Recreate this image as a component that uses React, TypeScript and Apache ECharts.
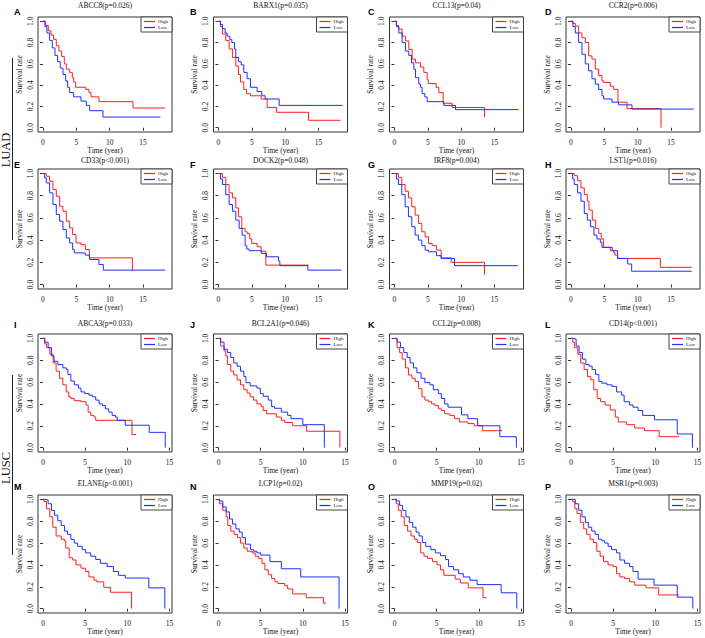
import React, { useEffect, useRef } from 'react';
import * as echarts from 'echarts';

// ---------- data ----------
const panelTitles = [
  'ABCC8(p=0.026)', 'BARX1(p=0.035)', 'CCL13(p=0.04)', 'CCR2(p=0.006)',
  'CD33(p<0.001)', 'DOCK2(p=0.048)', 'IRF8(p=0.004)', 'LST1(p=0.016)',
  'ABCA3(p=0.033)', 'BCL2A1(p=0.046)', 'CCL2(p=0.008)', 'CD14(p<0.001)',
  'ELANE(p<0.001)', 'LCP1(p=0.02)', 'MMP19(p=0.02)', 'MSR1(p=0.003)',
];
const panelLetters = ['A', 'B', 'C', 'D', 'E', 'F', 'G', 'H', 'I', 'J', 'K', 'L', 'M', 'N', 'O', 'P'];
const cohortLabels = ['LUAD', 'LUSC'];
const timeTicks = [0, 5, 10, 15];
const survivalTicks = [0, 0.2, 0.4, 0.6, 0.8, 1.0];
const groupNames = ['High', 'Low'];

const abcc8High = [[0,1],[0.4,0.96],[0.8,0.91],[1.2,0.87],[1.6,0.83],[2.0,0.77],[2.4,0.72],[2.8,0.67],[3.2,0.6],[3.5,0.55],[4.0,0.52],[4.4,0.47],[4.6,0.43],[4.9,0.38],[6.4,0.36],[6.9,0.33],[7.2,0.29],[8.4,0.245],[13.5,0.185],[18.3,0.185]];
const abcc8Low = [[0,1],[0.3,0.95],[0.6,0.89],[1.0,0.82],[1.4,0.75],[1.8,0.68],[2.2,0.62],[2.6,0.56],[3.0,0.5],[3.4,0.44],[3.7,0.38],[4.0,0.33],[4.6,0.29],[5.7,0.25],[6.5,0.21],[7.0,0.16],[9.0,0.1],[17.6,0.1]];
const barx1High = [[0,1],[0.3,0.95],[0.6,0.88],[1.1,0.82],[1.6,0.74],[2.1,0.66],[2.6,0.58],[3.0,0.5],[3.3,0.43],[3.8,0.36],[4.2,0.32],[4.8,0.3],[6.4,0.27],[7.3,0.19],[8.7,0.145],[13.5,0.07],[18.3,0.07]];
const barx1Low = [[0,1],[0.3,0.97],[0.6,0.93],[1.0,0.89],[1.3,0.86],[1.7,0.83],[2.0,0.8],[2.4,0.74],[2.6,0.66],[3.0,0.62],[3.4,0.59],[3.8,0.52],[4.3,0.46],[4.8,0.38],[5.8,0.34],[6.5,0.3],[7.0,0.27],[9.1,0.21],[18.6,0.21]];
const ccl13High = [[0,1],[0.3,0.96],[0.65,0.925],[1.15,0.86],[1.65,0.815],[2.15,0.735],[2.65,0.645],[3.15,0.61],[3.9,0.57],[4.4,0.52],[4.9,0.455],[5.05,0.415],[6.25,0.38],[6.65,0.33],[7.3,0.23],[8.65,0.19],[13.5,0.1]];
const ccl13Low = [[0,1],[0.3,0.95],[0.65,0.89],[1.15,0.8],[1.65,0.72],[2.15,0.68],[2.55,0.61],[2.9,0.55],[3.15,0.47],[3.65,0.41],[3.9,0.38],[4.15,0.32],[4.55,0.29],[4.9,0.245],[7.4,0.21],[9.15,0.17],[18.6,0.17]];
const ccr2High = [[0,1],[0.3,0.98],[0.65,0.955],[1.15,0.89],[1.65,0.845],[2.15,0.8],[2.65,0.675],[3.15,0.645],[3.65,0.55],[4.15,0.49],[4.65,0.44],[4.9,0.425],[5.9,0.39],[6.4,0.36],[7.05,0.24],[8.4,0.18],[13.5,0.0]];
const ccr2Low = [[0,1],[0.3,0.95],[0.65,0.89],[1.15,0.8],[1.65,0.69],[2.15,0.6],[2.65,0.535],[3.15,0.46],[3.65,0.41],[4.15,0.36],[4.65,0.3],[4.9,0.27],[6.15,0.24],[7.15,0.215],[9.15,0.175],[18.4,0.175]];
const cd33High = [[0,1],[0.5,0.975],[1.0,0.93],[1.5,0.855],[2.0,0.795],[2.5,0.705],[3.0,0.66],[3.5,0.57],[4.0,0.51],[4.45,0.45],[4.95,0.375],[5.7,0.36],[6.35,0.315],[6.95,0.24],[13.4,0.12]];
const cd33Low = [[0,1],[0.25,0.96],[0.5,0.915],[1.0,0.825],[1.5,0.72],[2.0,0.63],[2.5,0.57],[3.0,0.495],[3.5,0.42],[4.0,0.375],[4.45,0.315],[4.7,0.285],[6.35,0.265],[7.0,0.225],[8.4,0.18],[9.05,0.13],[18.3,0.13]];
const dock2High = [[0,1],[0.6,0.965],[1.1,0.9],[1.6,0.825],[2.1,0.78],[2.6,0.69],[3.0,0.61],[3.5,0.505],[4.0,0.475],[4.3,0.46],[4.7,0.41],[5.0,0.37],[5.8,0.34],[6.4,0.3],[7.1,0.175],[13.5,0.175]];
const dock2Low = [[0,1],[0.3,0.95],[0.6,0.9],[1.1,0.81],[1.6,0.72],[2.1,0.66],[2.6,0.58],[3.1,0.505],[3.55,0.445],[4.0,0.35],[4.25,0.32],[4.6,0.305],[6.4,0.28],[7.2,0.25],[9.0,0.21],[9.2,0.17],[13.4,0.13],[18.4,0.13]];
const irf8High = [[0,1],[0.6,0.965],[1.1,0.9],[1.6,0.84],[2.1,0.78],[2.6,0.7],[3.1,0.625],[3.6,0.55],[4.1,0.475],[4.6,0.43],[5.1,0.37],[5.65,0.35],[6.3,0.31],[7.0,0.24],[8.5,0.2],[13.5,0.09]];
const irf8Low = [[0,1],[0.3,0.95],[0.6,0.9],[1.1,0.81],[1.6,0.7],[2.1,0.61],[2.6,0.52],[3.1,0.445],[3.6,0.4],[4.1,0.35],[4.6,0.31],[5.1,0.295],[6.3,0.26],[7.0,0.235],[9.0,0.17],[18.5,0.17]];
const lst1High = [[0,1],[0.5,0.98],[1.0,0.935],[1.5,0.87],[2.0,0.81],[2.45,0.75],[2.7,0.67],[3.2,0.58],[3.7,0.505],[4.15,0.46],[4.55,0.41],[4.9,0.335],[5.9,0.305],[6.4,0.29],[6.6,0.265],[7.0,0.235],[13.4,0.155],[18.1,0.155]];
const lst1Low = [[0,1],[0.25,0.95],[0.5,0.9],[1.0,0.825],[1.5,0.75],[2.0,0.64],[2.45,0.58],[2.95,0.52],[3.45,0.445],[3.9,0.41],[4.4,0.38],[4.65,0.335],[6.2,0.305],[7.0,0.235],[8.5,0.185],[9.1,0.12],[18.1,0.12]];
const abca3High = [[0,1],[0.2,0.95],[0.4,0.915],[0.8,0.855],[1.2,0.775],[1.55,0.7],[1.95,0.635],[2.35,0.575],[2.75,0.51],[3.05,0.465],[3.3,0.45],[3.7,0.43],[4.5,0.42],[5.1,0.39],[5.35,0.325],[5.65,0.295],[6.05,0.28],[6.25,0.25],[10.55,0.12],[11.05,0.12]];
const abca3Low = [[0,1],[0.2,0.965],[0.6,0.915],[1.0,0.84],[1.3,0.79],[1.75,0.76],[2.35,0.73],[2.75,0.715],[2.95,0.67],[3.3,0.61],[3.7,0.575],[4.2,0.545],[4.5,0.51],[4.95,0.495],[5.45,0.48],[5.85,0.465],[6.25,0.435],[6.65,0.4],[7.05,0.385],[7.4,0.355],[7.8,0.325],[8.2,0.295],[8.6,0.28],[8.8,0.25],[9.75,0.205],[12.6,0.14],[14.5,0.0]];
const bcl2a1High = [[0,1],[0.25,0.93],[0.65,0.885],[0.85,0.84],[1.05,0.76],[1.45,0.7],[1.8,0.665],[2.2,0.62],[2.6,0.575],[3.0,0.53],[3.4,0.5],[3.75,0.465],[4.15,0.435],[4.55,0.4],[5.05,0.375],[5.3,0.34],[5.7,0.31],[6.85,0.28],[7.45,0.25],[7.85,0.23],[8.8,0.2],[10.45,0.15],[14.4,0.0]];
const bcl2a1Low = [[0,1],[0.25,0.965],[0.65,0.9],[1.05,0.87],[1.45,0.825],[1.8,0.775],[2.2,0.745],[2.6,0.7],[3.0,0.65],[3.25,0.595],[3.75,0.565],[4.55,0.545],[4.95,0.495],[5.3,0.47],[5.9,0.435],[6.3,0.375],[6.65,0.36],[7.45,0.325],[8.2,0.295],[8.6,0.265],[10.0,0.21],[12.55,0.0]];
const ccl2High = [[0,1],[0.3,0.915],[0.6,0.87],[0.9,0.81],[1.3,0.73],[1.65,0.665],[2.05,0.635],[2.45,0.605],[2.85,0.54],[3.25,0.465],[3.6,0.435],[4.0,0.42],[4.4,0.4],[4.8,0.385],[5.2,0.355],[5.55,0.34],[5.95,0.31],[6.55,0.295],[7.1,0.265],[7.7,0.235],[8.7,0.22],[9.45,0.2],[10.45,0.155],[12.75,0.155]];
const ccl2Low = [[0,1],[0.3,0.965],[0.7,0.915],[1.1,0.87],[1.5,0.825],[1.85,0.775],[2.25,0.73],[2.65,0.685],[3.15,0.635],[3.6,0.595],[4.2,0.575],[4.6,0.53],[5.2,0.495],[5.55,0.45],[5.95,0.4],[6.35,0.37],[7.95,0.3],[8.7,0.265],[9.85,0.2],[12.5,0.1],[14.45,0.0]];
const cd14High = [[0,1],[0.2,0.965],[0.4,0.915],[0.8,0.855],[1.15,0.775],[1.55,0.715],[1.95,0.65],[2.35,0.62],[2.7,0.53],[3.1,0.45],[3.5,0.42],[4.05,0.39],[4.65,0.345],[5.25,0.28],[5.6,0.235],[6.6,0.21],[7.55,0.18],[8.7,0.155],[10.45,0.1],[12.8,0.1]];
const cd14Low = [[0,1],[0.2,0.995],[0.6,0.93],[0.95,0.87],[1.35,0.81],[1.75,0.76],[2.15,0.745],[2.5,0.715],[2.9,0.67],[3.3,0.605],[3.65,0.59],[4.25,0.575],[4.85,0.56],[5.4,0.51],[6.0,0.48],[6.3,0.42],[6.95,0.39],[7.35,0.37],[7.95,0.34],[8.5,0.295],[9.9,0.255],[12.6,0.125],[14.4,0.0]];
const elaneHigh = [[0,1],[0.1,0.98],[0.4,0.915],[0.8,0.84],[1.15,0.745],[1.55,0.665],[2.15,0.635],[2.55,0.62],[2.7,0.555],[3.1,0.465],[3.5,0.445],[3.9,0.4],[4.5,0.37],[5.05,0.34],[5.45,0.29],[6.05,0.26],[6.4,0.245],[7.2,0.195],[8.0,0.15],[10.5,0.0]];
const elaneLow = [[0,1],[0.1,0.995],[0.6,0.96],[1.0,0.9],[1.35,0.855],[1.75,0.805],[2.15,0.76],[2.55,0.71],[2.9,0.68],[3.3,0.635],[3.7,0.6],[4.1,0.57],[4.65,0.54],[5.05,0.51],[5.65,0.48],[6.25,0.45],[6.8,0.415],[7.6,0.385],[8.35,0.34],[8.95,0.305],[9.75,0.28],[12.55,0.19],[14.45,0.0]];
const lcp1High = [[0,1],[0.1,0.96],[0.5,0.9],[0.9,0.84],[1.1,0.76],[1.45,0.71],[1.85,0.68],[2.25,0.65],[2.6,0.6],[3.0,0.555],[3.4,0.525],[4.0,0.51],[4.35,0.48],[4.75,0.46],[5.15,0.415],[5.5,0.355],[5.9,0.31],[6.3,0.275],[6.7,0.245],[7.05,0.23],[7.85,0.21],[8.2,0.18],[8.8,0.135],[10.4,0.1],[12.45,0.05],[12.75,0.05]];
const lcp1Low = [[0,1],[0.1,0.985],[0.5,0.93],[0.9,0.885],[1.3,0.82],[1.65,0.775],[2.05,0.73],[2.45,0.7],[2.8,0.65],[3.2,0.59],[3.8,0.54],[4.15,0.525],[4.55,0.51],[5.0,0.49],[6.1,0.43],[7.45,0.365],[9.75,0.29],[14.3,0.0]];
const mmp19High = [[0,1],[0.2,0.96],[0.45,0.9],[0.8,0.84],[1.15,0.76],[1.55,0.71],[1.95,0.665],[2.35,0.635],[2.7,0.605],[3.1,0.51],[3.5,0.48],[3.9,0.46],[4.5,0.43],[5.05,0.4],[5.45,0.355],[5.85,0.305],[7.2,0.27],[7.8,0.235],[8.75,0.19],[10.5,0.1],[10.95,0.1]];
const mmp19Low = [[0,1],[0.2,0.985],[0.6,0.945],[0.95,0.9],[1.35,0.84],[1.75,0.79],[2.15,0.745],[2.55,0.7],[2.9,0.665],[3.3,0.605],[3.7,0.57],[4.3,0.54],[4.85,0.51],[5.45,0.485],[6.05,0.45],[6.4,0.385],[7.0,0.355],[7.6,0.32],[8.15,0.29],[8.95,0.26],[9.8,0.22],[12.65,0.145],[14.5,0.0]];
const msr1High = [[0,1],[0.2,0.98],[0.45,0.915],[0.7,0.87],[1.1,0.79],[1.5,0.73],[1.85,0.68],[2.25,0.635],[2.65,0.605],[3.05,0.525],[3.45,0.48],[3.85,0.43],[4.4,0.4],[5.0,0.385],[5.4,0.32],[5.8,0.29],[6.35,0.275],[6.95,0.245],[7.55,0.215],[8.9,0.19],[10.4,0.125],[12.8,0.125]];
const msr1Low = [[0,1],[0.5,0.96],[0.9,0.9],[1.3,0.84],[1.7,0.79],[2.05,0.745],[2.45,0.71],[2.85,0.68],[3.25,0.635],[3.65,0.62],[4.0,0.6],[4.4,0.57],[4.8,0.54],[5.4,0.51],[5.8,0.445],[6.35,0.415],[6.95,0.385],[7.35,0.34],[7.95,0.27],[9.85,0.215],[12.6,0.105],[14.45,0.0]];

const highCurves = [abcc8High, barx1High, ccl13High, ccr2High, cd33High, dock2High, irf8High, lst1High,
  abca3High, bcl2a1High, ccl2High, cd14High, elaneHigh, lcp1High, mmp19High, msr1High];
const lowCurves = [abcc8Low, barx1Low, ccl13Low, ccr2Low, cd33Low, dock2Low, irf8Low, lst1Low,
  abca3Low, bcl2a1Low, ccl2Low, cd14Low, elaneLow, lcp1Low, mmp19Low, msr1Low];

// ---------- layout / style ----------
const W = 705;
const H = 638;
const colLeft = [38, 213.5, 389.5, 566];
const boxW = 134;
const rowTop = [17, 169, 334, 495];
const rowH = [115, 120, 118, 118];
const titleY = [5.5, 160, 323, 483];
const letterY = [12, 165, 324.5, 487];
const letterX = [14, 190, 368, 545];
const RED = '#FF1F1F';
const BLUE = '#1F2FFF';
const SERIF = '"Liberation Serif", "Times New Roman", serif';
const SANS = '"Liberation Sans", Arial, sans-serif';
const FRAME = '#333';

function buildOption() {
  const grid: any[] = [];
  const xAxis: any[] = [];
  const yAxis: any[] = [];
  const legend: any[] = [];
  const series: any[] = [];
  const graphic: any[] = [];

  for (let i = 0; i < 16; i++) {
    const r = Math.floor(i / 4);
    const c = i % 4;
    const left = colLeft[c];
    const top = rowTop[r];
    const h = rowH[r];
    const luad = r < 2;
    grid.push({ left, top, width: boxW, height: h, show: true, borderColor: FRAME, borderWidth: 1, backgroundColor: 'transparent' });
    xAxis.push({
      type: 'value', gridIndex: i,
      min: luad ? -0.74 : -0.6, max: luad ? 19.34 : 15.3,
      axisLine: { show: false }, splitLine: { show: false },
      axisTick: { show: true, length: 3, customValues: timeTicks, lineStyle: { color: FRAME, width: 1 } },
      axisLabel: { customValues: timeTicks, fontSize: 7.5, fontFamily: SERIF, color: '#111', margin: 6 },
      name: 'Time (year)', nameLocation: 'middle', nameGap: 14,
      nameTextStyle: { fontSize: 7.5, fontFamily: SERIF, color: '#111' },
    });
    yAxis.push({
      type: 'value', gridIndex: i, min: -0.04, max: 1.04,
      axisLine: { show: false }, splitLine: { show: false },
      axisTick: { show: true, length: 3, customValues: survivalTicks, lineStyle: { color: FRAME, width: 1 } },
      axisLabel: { customValues: survivalTicks, rotate: 90, fontSize: 7.5, fontFamily: SERIF, color: '#111', margin: 4,
        formatter: (v: number) => v.toFixed(1) },
      name: 'Survival rate', nameLocation: 'middle', nameGap: 15, nameRotate: 90,
      nameTextStyle: { fontSize: 7.5, fontFamily: SERIF, color: '#111' },
    });
    legend.push({
      data: groupNames, orient: 'vertical', right: W - (left + boxW), top,
      icon: 'rect', itemWidth: 11, itemHeight: 1.2, itemGap: 1,
      padding: [2, 4, 2, 3], borderColor: '#444', borderWidth: 1, backgroundColor: '#fff',
      textStyle: { fontSize: 5, fontFamily: SERIF, color: '#111', padding: [0, 0, 0, -2] },
      selectedMode: false,
    });
    series.push({
      type: 'line', name: groupNames[0], xAxisIndex: i, yAxisIndex: i, data: highCurves[i],
      step: 'end', showSymbol: false, symbol: 'none', silent: true,
      lineStyle: { width: 1, color: RED }, itemStyle: { color: RED },
    });
    series.push({
      type: 'line', name: groupNames[1], xAxisIndex: i, yAxisIndex: i, data: lowCurves[i],
      step: 'end', showSymbol: false, symbol: 'none', silent: true,
      lineStyle: { width: 1, color: BLUE }, itemStyle: { color: BLUE },
    });
    graphic.push({
      type: 'text', x: left + boxW / 2, y: titleY[r],
      style: { text: panelTitles[i], font: `7.5px ${SERIF}`, fill: '#111', align: 'center', verticalAlign: 'middle' },
    });
    graphic.push({
      type: 'text', x: letterX[c], y: letterY[r],
      style: { text: panelLetters[i], font: `bold 9px ${SANS}`, fill: '#000', align: 'left', verticalAlign: 'middle' },
    });
  }

  // cohort labels with brackets
  const cohortCenter = [150, 468];
  const lineSpan = [[58, 240], [375, 555]];
  for (let k = 0; k < 2; k++) {
    graphic.push({
      type: 'text', x: 6, y: cohortCenter[k], rotation: Math.PI / 2,
      style: { text: cohortLabels[k], font: `12.5px ${SERIF}`, fill: '#111', align: 'center', verticalAlign: 'middle' },
    });
    graphic.push({
      type: 'line', shape: { x1: 12.5, y1: lineSpan[k][0], x2: 12.5, y2: lineSpan[k][1] },
      style: { stroke: '#222', lineWidth: 1 },
    });
  }

  return { animation: false, backgroundColor: '#fff', grid, xAxis, yAxis, legend, series, graphic };
}

export default function App() {
  const ref = useRef<HTMLDivElement>(null);
  useEffect(() => {
    if (!ref.current) return;
    const chart = echarts.init(ref.current, undefined, { renderer: 'svg', width: W, height: H });
    chart.setOption(buildOption() as any);
    return () => chart.dispose();
  }, []);
  return <div ref={ref} style={{ position: 'fixed', left: 0, top: 0, width: W, height: H, background: '#fff' }} />;
}
